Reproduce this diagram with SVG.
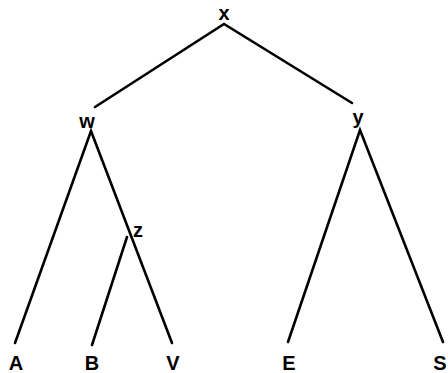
<svg xmlns="http://www.w3.org/2000/svg" width="448" height="373" viewBox="0 0 448 373">
<style>
.e{stroke:#000;stroke-width:2.6;fill:none;stroke-linecap:round}
text{font-family:"Liberation Sans",Arial,sans-serif;font-weight:bold;font-size:20px;fill:#000;text-anchor:middle}
</style>
<rect width="448" height="373" fill="#fff"/>
<g id="edges">
<path class="e" d="M95,107 L224,24 L352,103"/>
<path class="e" d="M15,343 L91,131 L172,343"/>
<path class="e" d="M92,345 L127,237"/>
<path class="e" d="M288,342 L360,130 L443,342"/>
</g>
<g id="x"><text x="224" y="20">x</text></g>
<g id="w"><text x="87" y="128">w</text></g>
<g id="y"><text x="358" y="124">y</text></g>
<g id="z"><text x="138" y="237">z</text></g>
<g id="A"><text x="16" y="370">A</text></g>
<g id="B"><text x="92" y="370">B</text></g>
<g id="V"><text x="173" y="370">V</text></g>
<g id="E"><text x="289" y="370">E</text></g>
<g id="S"><text x="440" y="370">S</text></g>
</svg>
